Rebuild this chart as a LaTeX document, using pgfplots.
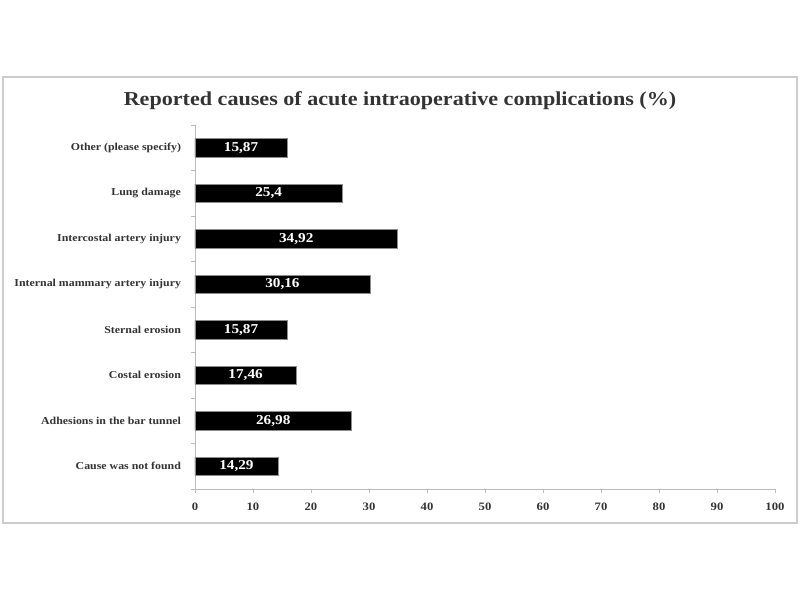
\documentclass[border=0pt]{standalone}
\usepackage{fontspec}
\setmainfont{Liberation Serif}[FakeStretch=1.12]
\usepackage{pgfplots}
\usepackage{pgfplotstable}
\pgfplotsset{compat=1.18}
\pgfplotstableread{
y val lab
0 14.29 14,29
1 26.98 26,98
2 17.46 17,46
3 15.87 15,87
4 30.16 30,16
5 34.92 34,92
6 25.4 25,4
7 15.87 15,87
}\datatable
\definecolor{txt}{HTML}{333333}
\definecolor{axc}{HTML}{BBBBBB}
\begin{document}
\begin{tikzpicture}[x=0.75pt,y=0.75pt]
\path (0,0) rectangle (800,600);
\draw[draw=black!20, line width=0.8pt] (3,77) rectangle (797,523);
\node[font=\bfseries\fontsize{14.8}{18}\selectfont, text=txt] at (400,499) {Reported causes of acute intraoperative complications (\%)};
\begin{axis}[
  at={(146.25pt,83.25pt)}, anchor=south west,
  scale only axis, width=435pt, height=273pt,
  xmin=0, xmax=100, ymin=-0.5, ymax=7.5,
  axis lines*=left,
  axis line style={axc, line width=0.6pt},
  xtick={0,10,...,100},
  ytick={0,...,7},
  yticklabels={Cause was not found, Adhesions in the bar tunnel, Costal erosion, Sternal erosion, Internal mammary artery injury, Intercostal artery injury, Lung damage, Other (please specify)},
  minor ytick={-0.5,0.5,...,7.5},
  major y tick style={draw=none},
  minor y tick style={axc, line width=0.6pt},
  major x tick style={axc, line width=0.6pt},
  tick align=outside,
  major tick length=3pt, minor tick length=3pt,
  ticklabel style={font=\bfseries\fontsize{7.95}{10}\selectfont, text=txt},
  /pgf/number format/assume math mode=true,
  yticklabel style={xshift=-4pt},
  xticklabel style={yshift=-4pt, font=\bfseries\fontsize{8.5}{10}\selectfont},
  clip=false,
]
\addplot[xbar, bar width=13.7pt, fill=black, draw=black!45, line width=0.5pt,
  nodes near coords, point meta=explicit symbolic,
  visualization depends on={\thisrow{val}/2 \as \halfval},
  every node near coord/.append style={anchor=center, text=white, font=\bfseries\fontsize{10.2}{12}\selectfont, shift={(axis direction cs:-\halfval,0)}}]
  table[x=val, y=y, meta=lab] {\datatable};
\end{axis}
\end{tikzpicture}
\end{document}
